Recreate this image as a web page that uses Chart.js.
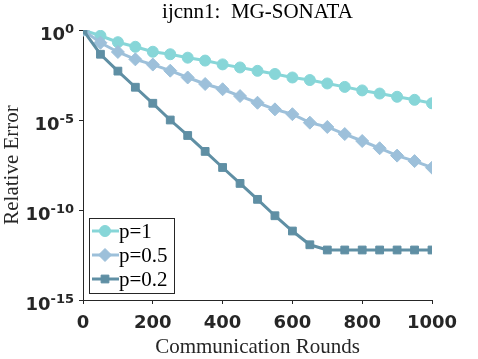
<!DOCTYPE html>
<html><head><meta charset="utf-8">
<script src="https://cdn.jsdelivr.net/npm/chart.js@4/dist/chart.umd.min.js"></script>
<style>html,body{margin:0;padding:0;background:#fff}#wrap{width:478px;height:359px}</style>
</head><body><div id="wrap"><canvas id="c" width="478" height="359"></canvas></div>
<script>
const rounds = [0,50,100,150,200,250,300,350,400,450,500,550,600,650,700,750,800,850,900,950,1000];
const errP1  = [1,0.48,0.21,0.117,0.062,0.045,0.029,0.020,0.0123,0.0083,0.0054,0.0036,0.0023,0.00166,0.00107,0.00069,0.00044,0.000295,0.000195,0.000132,0.000085];
const errP05 = [1,0.195,0.060,0.0234,0.012,0.0055,0.0023,0.001,0.00051,0.000214,9.1e-5,3.9e-5,2.1e-5,7.1e-6,4.1e-6,1.66e-6,6.8e-7,2.7e-7,1.05e-7,5.2e-8,2.24e-8];
const errP02 = [1,0.045,0.0052,0.00066,8.5e-5,1.0e-5,1.38e-6,1.8e-7,2.3e-8,3.0e-9,3.9e-10,4.8e-11,6.8e-12,1.17e-12,6.0e-13,6.0e-13,6.0e-13,6.0e-13,6.0e-13,6.0e-13,6.0e-13];
const seriesLabels = ['p=1','p=0.5','p=0.2'];
const xTicks = [0,200,400,600,800,1000];
const yTicks = [1e-15,1e-10,1e-5,1];
const yTickExponents = ['-15','-10','-5','0'];
const titleText = 'ijcnn1:  MG-SONATA';
const xTitle = 'Communication Rounds';
const yTitle = 'Relative Error';

const colors = ['#87D6D8','#9DC0DA','#5F8FA4'];
const styles = ['circle','rectRot','rect'];
const radii = [5.5,6.5,5.5];
const AX = '#262626';

function pts(arr){ return rounds.map((r,i)=>({x:r,y:arr[i]})); }
const allSeries = [errP1, errP05, errP02];

const datasets = allSeries.map((arr,i)=>({
  label: seriesLabels[i],
  data: pts(arr),
  borderColor: colors[i],
  backgroundColor: colors[i],
  pointBackgroundColor: colors[i],
  pointBorderColor: colors[i],
  pointBorderWidth: 1,
  pointStyle: styles[i],
  pointRadius: radii[i],
  borderWidth: 3,
  tension: 0,
  order: 2 - i
}));

const overlay = {
  id: 'overlay',
  afterDraw(chart){
    const ctx = chart.ctx, ca = chart.chartArea, ys = chart.scales.y;
    ctx.save();
    // title
    ctx.fillStyle = '#000';
    ctx.font = '21px "Liberation Serif"';
    ctx.textAlign = 'center';
    ctx.textBaseline = 'alphabetic';
    ctx.fillText(titleText, (ca.left + ca.right)/2, 18);
    // y tick labels 10^k
    ctx.fillStyle = '#262626';
    ctx.textAlign = 'right';
    yTicks.forEach((v,i)=>{
      const py = ys.getPixelForValue(v);
      const rx = ca.left - 9;
      ctx.font = 'bold 13px "DejaVu Sans"';
      const ew = ctx.measureText(yTickExponents[i]).width;
      ctx.fillText(yTickExponents[i], rx, py + 3);
      ctx.font = 'bold 18px "DejaVu Sans"';
      ctx.fillText('10', rx - ew, py + 10);
    });
    // legend
    const bx = ca.left + 6, bw = 85, bh = 75, by = ca.bottom - 7 - bh;
    ctx.fillStyle = '#fff';
    ctx.fillRect(bx, by, bw, bh);
    ctx.strokeStyle = AX;
    ctx.lineWidth = 1;
    ctx.strokeRect(bx + 0.5, by + 0.5, bw, bh);
    ctx.font = '21px "Liberation Serif"';
    ctx.textAlign = 'left';
    ctx.textBaseline = 'middle';
    seriesLabels.forEach((lab,i)=>{
      const yy = by + 13 + i*24;
      ctx.strokeStyle = colors[i];
      ctx.lineWidth = 3;
      ctx.beginPath(); ctx.moveTo(bx + 3, yy); ctx.lineTo(bx + 30, yy); ctx.stroke();
      ctx.fillStyle = colors[i];
      ctx.lineWidth = 1;
      Chart.helpers.drawPoint(ctx, {pointStyle: styles[i], radius: radii[i], rotation: 0, borderWidth: 1}, bx + 16, yy);
      ctx.fillStyle = '#000';
      ctx.fillText(lab, bx + 30, yy + 1);
    });
    ctx.restore();
  }
};

new Chart(document.getElementById('c'), {
  type: 'line',
  data: { datasets },
  plugins: [overlay],
  options: {
    responsive: false,
    devicePixelRatio: 1,
    animation: false,
    layout: { padding: { left: 0, right: 46, top: 30, bottom: 0 } },
    plugins: { legend: { display: false }, tooltip: { enabled: false }, title: { display: false } },
    scales: {
      x: {
        type: 'linear', min: 0, max: 1000,
        afterBuildTicks: s => { s.ticks = xTicks.map(v=>({value:v})); },
        afterFit: s => { s.height = 59; },
        grid: { drawOnChartArea: false, drawTicks: true, tickLength: 4, color: AX },
        border: { display: true, color: AX, width: 1 },
        ticks: { color: '#262626', font: { family: 'DejaVu Sans', weight: 'bold', size: 18 }, padding: 9, maxRotation: 0, callback: v => String(v) },
        title: { display: true, text: xTitle, color: '#262626', font: { family: 'Liberation Serif', size: 21, lineHeight: 1.1 }, padding: { top: 0, bottom: 0 } }
      },
      y: {
        type: 'logarithmic', min: 1e-15, max: 1,
        afterBuildTicks: s => { s.ticks = yTicks.map(v=>({value:v})); },
        afterFit: s => { s.width = 83; },
        grid: { drawOnChartArea: false, drawTicks: true, tickLength: 4, color: AX },
        border: { display: true, color: AX, width: 1 },
        ticks: { display: false },
        title: { display: true, text: yTitle, color: '#262626', font: { family: 'Liberation Serif', size: 21 }, padding: { top: 0, bottom: 0 } }
      }
    }
  }
});
</script>
</body></html>
